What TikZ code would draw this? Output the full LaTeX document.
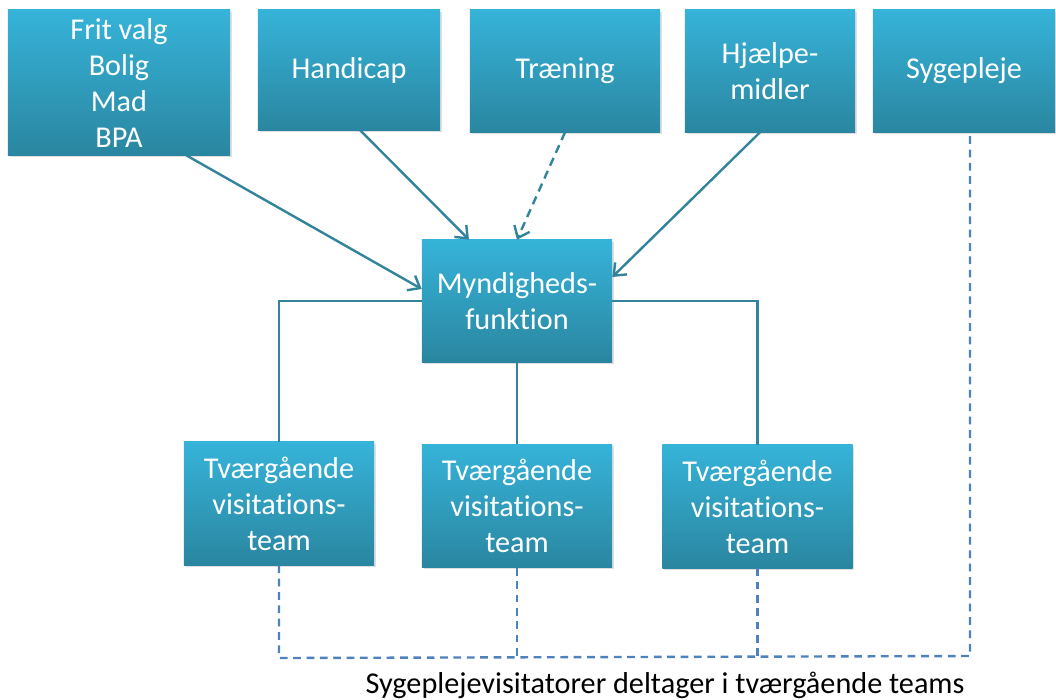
\documentclass[tikz,border=0pt]{standalone}
\usepackage{fontspec}
\setmainfont{Carlito}[Ligatures={NoCommon,NoContextual,NoRequired}, RawFeature={-liga;-clig;-calt;-dlig}]
\usetikzlibrary{positioning,arrows.meta,shadows}
\definecolor{boxtop}{HTML}{36B3D9}
\definecolor{boxbot}{HTML}{2A86A0}
\definecolor{linkteal}{HTML}{31849B}
\definecolor{busblue}{HTML}{4F81BD}
\tikzset{
  unit/.style={top color=boxtop, bottom color=boxbot, draw=none,
    text=white, align=center, inner sep=0pt,
    font=\fontsize{21.5}{25.6}\selectfont,
    drop shadow={opacity=0.25, shadow xshift=1.2pt, shadow yshift=-1.2pt}},
  link/.style={draw=linkteal, line width=1.7pt},
  bus/.style={draw=busblue, line width=1.7pt, dash pattern=on 5.5pt off 4pt}
}
\begin{document}
\begin{tikzpicture}[x=0.025cm, y=-0.025cm, >={Straight Barb[length=2.6mm, width=4.2mm]}]
        \useasboundingbox (0,0) rectangle (1056,699);
        \fill[white] (0,0) rectangle (1056,699);

        \node (Frit)[unit, minimum width=5.55cm, minimum height=3.625cm] at (119,82.5) {Frit valg\\Bolig\\Mad\\BPA};
        \node (Handicap)[unit, minimum width=4.55cm, minimum height=3cm] at (349,70) {Handicap};
        \node (Traening)[unit, minimum width=4.75cm, minimum height=3.05cm] at (565,71) {Træning};
        \node (Hjaelp)[unit, minimum width=4.25cm, minimum height=3.05cm] at (770,71) {Hjælpe-\\midler};
        \node (Syg)[unit, minimum width=4.55cm, minimum height=3.05cm] at (964,71) {Sygepleje};

        \node (Mynd)[unit, minimum width=4.75cm, minimum height=3.05cm] at (517,301) {Myndigheds-\\funkt\kern0pt ion};

        \node (TeamA)[unit, minimum width=4.75cm, minimum height=3.075cm] at (279,503.5) {Tværgående\\visitat\kern0pt ions-\\team};
        \node (TeamB)[unit, minimum width=4.75cm, minimum height=3.075cm] at (517,506) {Tværgående\\visitat\kern0pt ions-\\team};
        \node (TeamC)[unit, minimum width=4.75cm, minimum height=3.075cm] at (757.5,506.5) {Tværgående\\visitat\kern0pt ions-\\team};

        \node (Note) at (665,685) {\fontsize{21.5}{25.6}\selectfont Sygeplejevisitatorer deltager i tværgående teams};

        % pile ind i myndighed
        \draw [->, link] ([xshift=-1.1cm]Frit.south east) -- ([yshift=0.3cm]Mynd.west);
        \draw [->, link] ([xshift=0.28cm]Handicap.south) -- ([xshift=-1.2cm]Mynd.north);
        \draw [->, link, dashed, dash pattern=on 6pt off 4pt] (Traening.south) -- (Mynd.north);
        \draw [->, link] ([xshift=-0.25cm]Hjaelp.south) -- ([yshift=0.6cm]Mynd.east);

        % myndighed til teams
        \draw [link] (Mynd.west) -| (TeamA.north);
        \draw [link] (Mynd.south) -- (TeamB.north);
        \draw [link] (Mynd.east) -| (TeamC.north);

        % sygepleje i teams
        \coordinate (busL) at (279,658);
        \coordinate (busR) at (970,656);
        \draw [bus] (TeamA.south) -- (busL) -- (busR) -- ([xshift=0.15cm]Syg.south);
        \draw [bus] (TeamB.south) -- (TeamB.south |- busL);
        \draw [bus] (TeamC.south) -- (TeamC.south |- busL);
    \end{tikzpicture}
\end{document}
